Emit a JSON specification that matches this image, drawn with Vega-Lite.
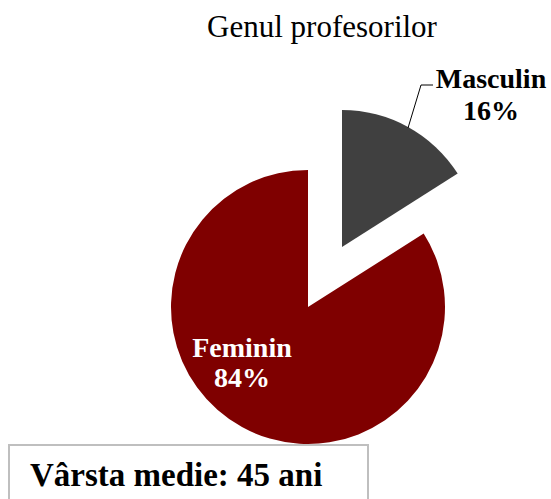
{
  "$schema": "https://vega.github.io/schema/vega-lite/v6.json",
  "padding": {"left": 8, "top": 12, "right": 0, "bottom": 0},
  "background": "white",
  "title": {"text": "Genul profesorilor", "font": "Liberation Serif", "fontSize": 31, "fontWeight": "normal", "color": "#000000", "anchor": "middle", "dx": 42, "offset": -4},
  "datasets": {
    "gen": [
      {"gen": "Feminin", "procent": 84, "eticheta": "Feminin\n84%"},
      {"gen": "Masculin", "procent": 16, "eticheta": "Masculin\n16%"}
    ],
    "info": [{"text": "Vârsta medie: 45 ani"}]
  },
  "config": {"view": {"stroke": null}, "font": "Liberation Serif"},
  "spacing": 0,
  "vconcat": [
    {
      "width": 543,
      "height": 400,
      "data": {"name": "gen"},
      "layer": [
        {
          "mark": {"type": "arc", "radius": 137, "x": 299, "y": 267},
          "encoding": {
            "theta": {"field": "procent", "type": "quantitative", "stack": true},
            "order": {"field": "gen", "type": "nominal", "sort": "descending"},
            "color": {"field": "gen", "type": "nominal", "scale": {"domain": ["Feminin", "Masculin"], "range": ["#7f0000", "#404040"]}, "legend": null},
            "opacity": {"condition": {"test": "datum.gen === 'Masculin'", "value": 0}, "value": 1}
          }
        },
        {
          "mark": {"type": "arc", "radius": 137, "x": 333, "y": 207},
          "encoding": {
            "theta": {"field": "procent", "type": "quantitative", "stack": true},
            "order": {"field": "gen", "type": "nominal", "sort": "descending"},
            "color": {"field": "gen", "type": "nominal", "scale": {"domain": ["Feminin", "Masculin"], "range": ["#7f0000", "#404040"]}, "legend": null},
            "opacity": {"condition": {"test": "datum.gen === 'Feminin'", "value": 0}, "value": 1}
          }
        },
        {
          "transform": [{"filter": "datum.gen === 'Feminin'"}],
          "mark": {"type": "text", "x": 233, "y": 317, "align": "center", "baseline": "alphabetic", "lineBreak": "\n", "lineHeight": 30, "fontSize": 28, "fontWeight": "bold", "color": "white"},
          "encoding": {"text": {"field": "eticheta"}}
        },
        {
          "transform": [{"filter": "datum.gen === 'Masculin'"}],
          "mark": {"type": "text", "x": 482, "y": 48, "align": "center", "baseline": "alphabetic", "lineBreak": "\n", "lineHeight": 32, "fontSize": 28, "fontWeight": "bold", "color": "black"},
          "encoding": {"text": {"field": "eticheta"}}
        },
        {
          "transform": [{"filter": "datum.gen === 'Masculin'"}],
          "mark": {"type": "rule", "color": "black", "strokeWidth": 1},
          "encoding": {"x": {"value": 412}, "y": {"value": 45}, "x2": {"value": 424}, "y2": {"value": 45}}
        },
        {
          "transform": [{"filter": "datum.gen === 'Masculin'"}],
          "mark": {"type": "rule", "color": "black", "strokeWidth": 1},
          "encoding": {"x": {"value": 412}, "y": {"value": 45}, "x2": {"value": 399}, "y2": {"value": 88}}
        }
      ]
    },
    {
      "width": 359,
      "height": 60,
      "data": {"name": "info"},
      "view": {"stroke": "#bfbfbf", "strokeWidth": 2},
      "mark": {"type": "text", "align": "left", "baseline": "alphabetic", "x": 21, "y": 41, "fontSize": 33, "fontWeight": "bold", "color": "black"},
      "encoding": {"text": {"field": "text"}}
    }
  ]
}
